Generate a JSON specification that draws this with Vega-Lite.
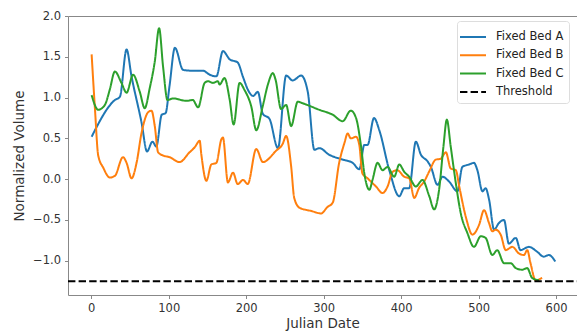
{
  "$schema": "https://vega.github.io/schema/vega-lite/v6.json",
  "width": 509,
  "height": 279,
  "autosize": "none",
  "padding": {"left": 68, "top": 16, "right": 0, "bottom": 41},
  "background": "white",
  "config": {
    "font": "DejaVu Sans",
    "view": {"stroke": "#888", "strokeWidth": 1},
    "axis": {"grid": false, "domain": false, "tickColor": "#888", "tickSize": 3.5, "labelColor": "#333", "labelFontSize": 11.5, "titleFontSize": 13.5, "titleFontWeight": "normal", "titleColor": "#333", "labelFont": "DejaVu Sans", "titleFont": "DejaVu Sans"}
  },
  "data": {"values": [
    {"d":0.5,"v":0.52,"s":"Fixed Bed A"},{"d":30.5,"v":0.97,"s":"Fixed Bed A"},{"d":37,"v":1.01,"s":"Fixed Bed A"},{"d":45.6,"v":1.59,"s":"Fixed Bed A"},{"d":52,"v":1.26,"s":"Fixed Bed A"},{"d":65,"v":0.69,"s":"Fixed Bed A"},{"d":72,"v":0.34,"s":"Fixed Bed A"},{"d":79,"v":0.46,"s":"Fixed Bed A"},{"d":84,"v":0.4,"s":"Fixed Bed A"},{"d":91,"v":0.79,"s":"Fixed Bed A"},{"d":96,"v":0.81,"s":"Fixed Bed A"},{"d":101,"v":1.14,"s":"Fixed Bed A"},{"d":108,"v":1.61,"s":"Fixed Bed A"},{"d":118.5,"v":1.34,"s":"Fixed Bed A"},{"d":129,"v":1.33,"s":"Fixed Bed A"},{"d":144,"v":1.33,"s":"Fixed Bed A"},{"d":153,"v":1.28,"s":"Fixed Bed A"},{"d":161.5,"v":1.26,"s":"Fixed Bed A"},{"d":170,"v":1.57,"s":"Fixed Bed A"},{"d":178.6,"v":1.47,"s":"Fixed Bed A"},{"d":189,"v":1.43,"s":"Fixed Bed A"},{"d":196,"v":1.25,"s":"Fixed Bed A"},{"d":202,"v":1.1,"s":"Fixed Bed A"},{"d":209,"v":1.02,"s":"Fixed Bed A"},{"d":215,"v":1.07,"s":"Fixed Bed A"},{"d":221.5,"v":0.8,"s":"Fixed Bed A"},{"d":230,"v":0.74,"s":"Fixed Bed A"},{"d":241,"v":0.38,"s":"Fixed Bed A"},{"d":251.6,"v":1.27,"s":"Fixed Bed A"},{"d":260,"v":1.21,"s":"Fixed Bed A"},{"d":271,"v":1.27,"s":"Fixed Bed A"},{"d":279.5,"v":1.07,"s":"Fixed Bed A"},{"d":288,"v":0.36,"s":"Fixed Bed A"},{"d":294.5,"v":0.38,"s":"Fixed Bed A"},{"d":307,"v":0.3,"s":"Fixed Bed A"},{"d":324.5,"v":0.24,"s":"Fixed Bed A"},{"d":337.4,"v":0.2,"s":"Fixed Bed A"},{"d":346,"v":0.12,"s":"Fixed Bed A"},{"d":352.5,"v":0.42,"s":"Fixed Bed A"},{"d":356.7,"v":0.42,"s":"Fixed Bed A"},{"d":365,"v":0.75,"s":"Fixed Bed A"},{"d":371.8,"v":0.6,"s":"Fixed Bed A"},{"d":384.7,"v":0.11,"s":"Fixed Bed A"},{"d":397.6,"v":-0.21,"s":"Fixed Bed A"},{"d":404,"v":-0.11,"s":"Fixed Bed A"},{"d":410.4,"v":-0.11,"s":"Fixed Bed A"},{"d":419,"v":0.46,"s":"Fixed Bed A"},{"d":425.5,"v":0.3,"s":"Fixed Bed A"},{"d":434,"v":0.22,"s":"Fixed Bed A"},{"d":438.4,"v":0.15,"s":"Fixed Bed A"},{"d":447,"v":-0.07,"s":"Fixed Bed A"},{"d":453.3,"v":0.03,"s":"Fixed Bed A"},{"d":462,"v":-0.03,"s":"Fixed Bed A"},{"d":472.6,"v":-0.15,"s":"Fixed Bed A"},{"d":479,"v":0.15,"s":"Fixed Bed A"},{"d":487.7,"v":0.18,"s":"Fixed Bed A"},{"d":494,"v":0.2,"s":"Fixed Bed A"},{"d":498.4,"v":0.11,"s":"Fixed Bed A"},{"d":505,"v":-0.15,"s":"Fixed Bed A"},{"d":509,"v":-0.11,"s":"Fixed Bed A"},{"d":513.5,"v":-0.25,"s":"Fixed Bed A"},{"d":520,"v":-0.62,"s":"Fixed Bed A"},{"d":526,"v":-0.54,"s":"Fixed Bed A"},{"d":532.8,"v":-0.5,"s":"Fixed Bed A"},{"d":539,"v":-0.79,"s":"Fixed Bed A"},{"d":548,"v":-0.72,"s":"Fixed Bed A"},{"d":554,"v":-0.87,"s":"Fixed Bed A"},{"d":565,"v":-0.83,"s":"Fixed Bed A"},{"d":575.6,"v":-0.89,"s":"Fixed Bed A"},{"d":584,"v":-0.95,"s":"Fixed Bed A"},{"d":590.6,"v":-0.93,"s":"Fixed Bed A"},{"d":599,"v":-1.01,"s":"Fixed Bed A"},

    {"d":0.5,"v":1.53,"s":"Fixed Bed B"},{"d":4.8,"v":0.86,"s":"Fixed Bed B"},{"d":9,"v":0.29,"s":"Fixed Bed B"},{"d":15.5,"v":0.14,"s":"Fixed Bed B"},{"d":24,"v":0.02,"s":"Fixed Bed B"},{"d":30.5,"v":0.04,"s":"Fixed Bed B"},{"d":41,"v":0.27,"s":"Fixed Bed B"},{"d":45.6,"v":0.2,"s":"Fixed Bed B"},{"d":52,"v":0.01,"s":"Fixed Bed B"},{"d":58.5,"v":0.2,"s":"Fixed Bed B"},{"d":65,"v":0.57,"s":"Fixed Bed B"},{"d":73.4,"v":0.82,"s":"Fixed Bed B"},{"d":77.8,"v":0.84,"s":"Fixed Bed B"},{"d":82,"v":0.65,"s":"Fixed Bed B"},{"d":86.3,"v":0.33,"s":"Fixed Bed B"},{"d":92.7,"v":0.29,"s":"Fixed Bed B"},{"d":101,"v":0.27,"s":"Fixed Bed B"},{"d":114,"v":0.21,"s":"Fixed Bed B"},{"d":127,"v":0.33,"s":"Fixed Bed B"},{"d":133.5,"v":0.39,"s":"Fixed Bed B"},{"d":140,"v":0.47,"s":"Fixed Bed B"},{"d":142,"v":0.31,"s":"Fixed Bed B"},{"d":148.6,"v":-0.02,"s":"Fixed Bed B"},{"d":155,"v":0.18,"s":"Fixed Bed B"},{"d":161.5,"v":0.2,"s":"Fixed Bed B"},{"d":168,"v":0.49,"s":"Fixed Bed B"},{"d":170,"v":0.51,"s":"Fixed Bed B"},{"d":176.4,"v":-0.04,"s":"Fixed Bed B"},{"d":183,"v":0.08,"s":"Fixed Bed B"},{"d":189,"v":-0.06,"s":"Fixed Bed B"},{"d":196,"v":-0.01,"s":"Fixed Bed B"},{"d":202,"v":-0.06,"s":"Fixed Bed B"},{"d":213,"v":0.37,"s":"Fixed Bed B"},{"d":221.5,"v":0.21,"s":"Fixed Bed B"},{"d":238.8,"v":0.35,"s":"Fixed Bed B"},{"d":247,"v":0.43,"s":"Fixed Bed B"},{"d":251.6,"v":0.53,"s":"Fixed Bed B"},{"d":258,"v":0.16,"s":"Fixed Bed B"},{"d":262,"v":-0.23,"s":"Fixed Bed B"},{"d":268.8,"v":-0.35,"s":"Fixed Bed B"},{"d":284,"v":-0.39,"s":"Fixed Bed B"},{"d":296.7,"v":-0.42,"s":"Fixed Bed B"},{"d":305,"v":-0.34,"s":"Fixed Bed B"},{"d":311.6,"v":-0.29,"s":"Fixed Bed B"},{"d":320,"v":0.2,"s":"Fixed Bed B"},{"d":326.7,"v":0.44,"s":"Fixed Bed B"},{"d":331,"v":0.56,"s":"Fixed Bed B"},{"d":335,"v":0.5,"s":"Fixed Bed B"},{"d":341.8,"v":0.52,"s":"Fixed Bed B"},{"d":346,"v":0.42,"s":"Fixed Bed B"},{"d":350,"v":0.07,"s":"Fixed Bed B"},{"d":356.7,"v":0.01,"s":"Fixed Bed B"},{"d":367.5,"v":-0.09,"s":"Fixed Bed B"},{"d":376,"v":-0.17,"s":"Fixed Bed B"},{"d":382.5,"v":-0.09,"s":"Fixed Bed B"},{"d":389,"v":0.09,"s":"Fixed Bed B"},{"d":395,"v":0.11,"s":"Fixed Bed B"},{"d":404,"v":0.03,"s":"Fixed Bed B"},{"d":410.4,"v":0.01,"s":"Fixed Bed B"},{"d":417,"v":-0.23,"s":"Fixed Bed B"},{"d":423,"v":-0.11,"s":"Fixed Bed B"},{"d":429.7,"v":-0.03,"s":"Fixed Bed B"},{"d":436,"v":0.09,"s":"Fixed Bed B"},{"d":444.8,"v":0.24,"s":"Fixed Bed B"},{"d":451,"v":0.25,"s":"Fixed Bed B"},{"d":457.7,"v":0.33,"s":"Fixed Bed B"},{"d":464,"v":0.13,"s":"Fixed Bed B"},{"d":470.6,"v":0.11,"s":"Fixed Bed B"},{"d":475,"v":-0.09,"s":"Fixed Bed B"},{"d":483.4,"v":-0.46,"s":"Fixed Bed B"},{"d":492,"v":-0.68,"s":"Fixed Bed B"},{"d":500.6,"v":-0.56,"s":"Fixed Bed B"},{"d":507,"v":-0.38,"s":"Fixed Bed B"},{"d":513.5,"v":-0.54,"s":"Fixed Bed B"},{"d":517.7,"v":-0.64,"s":"Fixed Bed B"},{"d":522,"v":-0.62,"s":"Fixed Bed B"},{"d":528.5,"v":-0.68,"s":"Fixed Bed B"},{"d":535,"v":-0.87,"s":"Fixed Bed B"},{"d":543.5,"v":-0.83,"s":"Fixed Bed B"},{"d":552,"v":-0.91,"s":"Fixed Bed B"},{"d":558.5,"v":-0.93,"s":"Fixed Bed B"},{"d":562.8,"v":-0.87,"s":"Fixed Bed B"},{"d":567,"v":-1.03,"s":"Fixed Bed B"},{"d":573.6,"v":-1.24,"s":"Fixed Bed B"},{"d":580,"v":-1.22,"s":"Fixed Bed B"},{"d":582,"v":-1.21,"s":"Fixed Bed B"},

    {"d":0.5,"v":1.03,"s":"Fixed Bed C"},{"d":9,"v":0.85,"s":"Fixed Bed C"},{"d":17.6,"v":0.91,"s":"Fixed Bed C"},{"d":24,"v":1.1,"s":"Fixed Bed C"},{"d":30.5,"v":1.32,"s":"Fixed Bed C"},{"d":39,"v":1.18,"s":"Fixed Bed C"},{"d":45.6,"v":1.06,"s":"Fixed Bed C"},{"d":54,"v":1.28,"s":"Fixed Bed C"},{"d":62.7,"v":1.07,"s":"Fixed Bed C"},{"d":69,"v":0.87,"s":"Fixed Bed C"},{"d":75.6,"v":1.12,"s":"Fixed Bed C"},{"d":82,"v":1.44,"s":"Fixed Bed C"},{"d":87.6,"v":1.85,"s":"Fixed Bed C"},{"d":92.7,"v":1.38,"s":"Fixed Bed C"},{"d":98.4,"v":0.97,"s":"Fixed Bed C"},{"d":105.6,"v":0.99,"s":"Fixed Bed C"},{"d":123,"v":0.96,"s":"Fixed Bed C"},{"d":131,"v":0.97,"s":"Fixed Bed C"},{"d":138,"v":0.88,"s":"Fixed Bed C"},{"d":146.4,"v":1.18,"s":"Fixed Bed C"},{"d":150.7,"v":1.2,"s":"Fixed Bed C"},{"d":157,"v":1.18,"s":"Fixed Bed C"},{"d":163.5,"v":1.2,"s":"Fixed Bed C"},{"d":165.7,"v":1.16,"s":"Fixed Bed C"},{"d":172,"v":1.24,"s":"Fixed Bed C"},{"d":178.6,"v":0.98,"s":"Fixed Bed C"},{"d":183.8,"v":0.67,"s":"Fixed Bed C"},{"d":191.5,"v":1.18,"s":"Fixed Bed C"},{"d":198,"v":1.09,"s":"Fixed Bed C"},{"d":206.6,"v":0.89,"s":"Fixed Bed C"},{"d":213,"v":0.6,"s":"Fixed Bed C"},{"d":221.5,"v":0.9,"s":"Fixed Bed C"},{"d":228,"v":1.16,"s":"Fixed Bed C"},{"d":234.4,"v":1.3,"s":"Fixed Bed C"},{"d":237.9,"v":1.22,"s":"Fixed Bed C"},{"d":245,"v":0.86,"s":"Fixed Bed C"},{"d":251.6,"v":0.91,"s":"Fixed Bed C"},{"d":258,"v":0.65,"s":"Fixed Bed C"},{"d":266.6,"v":0.95,"s":"Fixed Bed C"},{"d":273,"v":0.93,"s":"Fixed Bed C"},{"d":294.5,"v":0.85,"s":"Fixed Bed C"},{"d":311.6,"v":0.79,"s":"Fixed Bed C"},{"d":324.5,"v":0.71,"s":"Fixed Bed C"},{"d":335,"v":0.84,"s":"Fixed Bed C"},{"d":341.8,"v":0.75,"s":"Fixed Bed C"},{"d":348,"v":0.42,"s":"Fixed Bed C"},{"d":352.5,"v":0.07,"s":"Fixed Bed C"},{"d":359,"v":-0.13,"s":"Fixed Bed C"},{"d":363,"v":-0.01,"s":"Fixed Bed C"},{"d":369.6,"v":0.2,"s":"Fixed Bed C"},{"d":376,"v":0.11,"s":"Fixed Bed C"},{"d":382.5,"v":0.15,"s":"Fixed Bed C"},{"d":391,"v":0.03,"s":"Fixed Bed C"},{"d":397.6,"v":0.18,"s":"Fixed Bed C"},{"d":404,"v":0.09,"s":"Fixed Bed C"},{"d":410.4,"v":0.03,"s":"Fixed Bed C"},{"d":419,"v":-0.09,"s":"Fixed Bed C"},{"d":427.6,"v":-0.01,"s":"Fixed Bed C"},{"d":436,"v":-0.2,"s":"Fixed Bed C"},{"d":442.6,"v":-0.37,"s":"Fixed Bed C"},{"d":449,"v":-0.13,"s":"Fixed Bed C"},{"d":454.6,"v":0.4,"s":"Fixed Bed C"},{"d":459,"v":0.73,"s":"Fixed Bed C"},{"d":464,"v":0.4,"s":"Fixed Bed C"},{"d":470.6,"v":-0.05,"s":"Fixed Bed C"},{"d":477,"v":-0.42,"s":"Fixed Bed C"},{"d":485.5,"v":-0.66,"s":"Fixed Bed C"},{"d":494,"v":-0.83,"s":"Fixed Bed C"},{"d":502.8,"v":-0.7,"s":"Fixed Bed C"},{"d":509,"v":-0.72,"s":"Fixed Bed C"},{"d":517.7,"v":-0.93,"s":"Fixed Bed C"},{"d":524,"v":-0.87,"s":"Fixed Bed C"},{"d":532.8,"v":-1.03,"s":"Fixed Bed C"},{"d":541.4,"v":-1.03,"s":"Fixed Bed C"},{"d":548,"v":-1.09,"s":"Fixed Bed C"},{"d":556.3,"v":-1.11,"s":"Fixed Bed C"},{"d":562.8,"v":-1.09,"s":"Fixed Bed C"},{"d":569,"v":-1.21,"s":"Fixed Bed C"},{"d":578,"v":-1.24,"s":"Fixed Bed C"},

    {"d":-30,"v":-1.25,"s":"Threshold"},{"d":630,"v":-1.25,"s":"Threshold"}
  ]},
  "mark": {"type": "line", "interpolate": "monotone", "strokeWidth": 2, "clip": true},
  "encoding": {
    "x": {"field": "d", "type": "quantitative", "scale": {"domain": [-30, 627], "nice": false, "zero": false},
      "axis": {"values": [0, 100, 200, 300, 400, 500, 600], "title": "Julian Date", "labelPadding": 4, "titlePadding": 2}},
    "y": {"field": "v", "type": "quantitative", "scale": {"domain": [-1.42, 2.0], "nice": false, "zero": false},
      "axis": {"values": [-1.0, -0.5, 0.0, 0.5, 1.0, 1.5, 2.0], "format": ".1f", "title": "Normalized Volume", "labelPadding": 4, "titlePadding": 6}},
    "color": {"field": "s", "type": "nominal",
      "scale": {"domain": ["Fixed Bed A", "Fixed Bed B", "Fixed Bed C", "Threshold"], "range": ["#1f77b4", "#ff7f0e", "#2ca02c", "#000000"]},
      "legend": {"title": null, "orient": "none", "legendX": 389, "legendY": 5, "symbolType": "M-1.3,0L1.3,0", "symbolSize": 400, "symbolStrokeWidth": 2, "labelFontSize": 11.5, "labelColor": "#222", "labelFont": "DejaVu Sans", "fillColor": "white", "strokeColor": "#ddd", "cornerRadius": 3, "padding": 5, "rowPadding": 1.3, "labelOffset": 12}},
    "strokeDash": {"field": "s", "type": "nominal",
      "scale": {"domain": ["Fixed Bed A", "Fixed Bed B", "Fixed Bed C", "Threshold"], "range": [[1, 0], [1, 0], [1, 0], [7.4, 3.2]]},
      "legend": null},
    "order": {"field": "d", "type": "quantitative"}
  }
}
